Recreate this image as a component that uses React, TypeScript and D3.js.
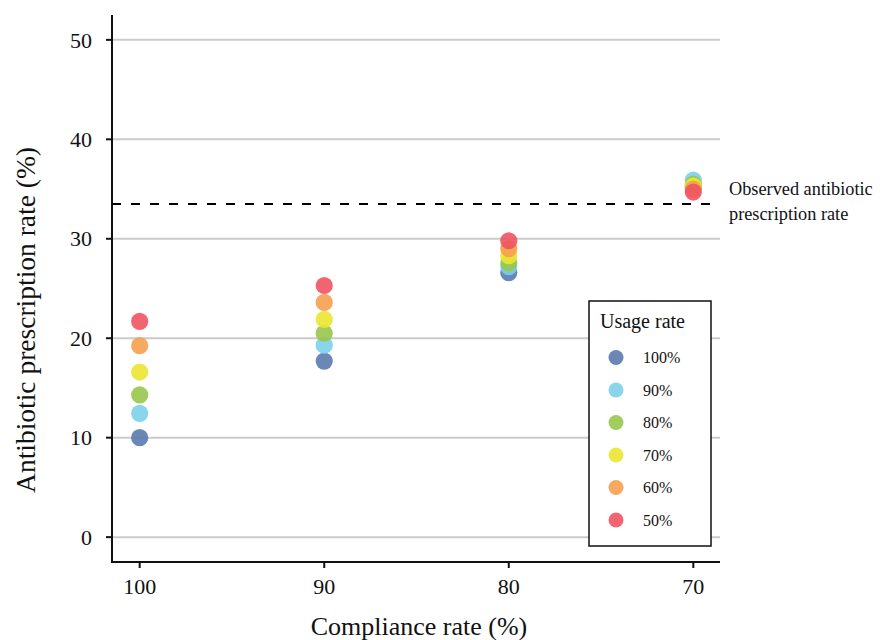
import React from "react";
import * as d3 from "d3";

const compliance = [100, 90, 80, 70];
const usageLabels = ["100%", "90%", "80%", "70%", "60%", "50%"];
const usageColors = ["#5a7aae", "#7bd0ea", "#98c84c", "#ece632", "#f6a04e", "#ee5462"];
const u100 = [10.0, 17.7, 26.6, 35.2];
const u90 = [12.45, 19.3, 27.2, 35.9];
const u80 = [14.3, 20.5, 27.6, 35.5];
const u70 = [16.6, 21.9, 28.3, 35.3];
const u60 = [19.25, 23.6, 29.0, 35.0];
const u50 = [21.7, 25.3, 29.8, 34.7];
const seriesValues = [u100, u90, u80, u70, u60, u50];
const yTicks = [0, 10, 20, 30, 40, 50];
const observedRate = 33.5;
const observedLabel = ["Observed antibiotic", "prescription rate"];

const FONT = "'Liberation Serif', 'Times New Roman', serif";

export default function App() {
  const left = 112, right = 721, top = 15, bottom = 562;
  const x = d3.scaleLinear().domain([101.5, 68.5]).range([left, right]);
  const y = d3.scaleLinear().domain([-2.5, 52.5]).range([bottom, top]);

  return (
    <svg width={880} height={640} style={{ position: "absolute", left: 0, top: 0, background: "#fff" }} fontFamily={FONT}>
      {/* gridlines */}
      {yTicks.map((t) => (
        <line key={"g" + t} x1={left} x2={720} y1={y(t)} y2={y(t)} stroke="#cbcbcb" strokeWidth={2} />
      ))}
      {/* observed dashed line */}
      <line x1={left} x2={720} y1={y(observedRate)} y2={y(observedRate)} stroke="#000" strokeWidth={2} strokeDasharray="9 10" />
      {observedLabel.map((s, i) => (
        <text key={s} x={729} y={y(observedRate) - 8.5 + i * 25} fontSize={18.3} fill="#111">{s}</text>
      ))}
      {/* points */}
      {seriesValues.map((vals, si) =>
        vals.map((v, ci) => (
          <circle key={si + "-" + ci} cx={x(compliance[ci])} cy={y(v)} r={8.6} fill={usageColors[si]} fillOpacity={0.9} />
        ))
      )}
      {/* axes */}
      <line x1={left} x2={left} y1={top} y2={bottom + 1} stroke="#111" strokeWidth={2} />
      <line x1={left - 1} x2={720} y1={bottom} y2={bottom} stroke="#111" strokeWidth={2} />
      {yTicks.map((t) => (
        <g key={"yt" + t}>
          <line x1={left - 6} x2={left} y1={y(t)} y2={y(t)} stroke="#111" strokeWidth={2} />
          <text x={left - 20} y={y(t)} dy="0.35em" textAnchor="end" fontSize={22} fill="#111">{t}</text>
        </g>
      ))}
      {compliance.map((c) => (
        <g key={"xt" + c}>
          <line x1={x(c)} x2={x(c)} y1={bottom} y2={bottom + 6} stroke="#111" strokeWidth={2} />
          <text x={x(c)} y={594} textAnchor="middle" fontSize={22} fill="#111">{c}</text>
        </g>
      ))}
      {/* titles */}
      <text x={419} y={635} textAnchor="middle" fontSize={26} fill="#111">Compliance rate (%)</text>
      <text transform={`translate(35,${320}) rotate(-90)`} textAnchor="middle" fontSize={27.5} fill="#111">Antibiotic prescription rate (%)</text>
      {/* legend */}
      <rect x={589} y={301} width={122} height={245} fill="#fff" stroke="#111" strokeWidth={1.5} />
      <text x={600} y={328} fontSize={20} fill="#111">Usage rate</text>
      {usageLabels.map((lab, i) => (
        <g key={lab}>
          <circle cx={616} cy={357.5 + i * 32.5} r={7.5} fill={usageColors[i]} fillOpacity={0.9} />
          <text x={643} y={357.5 + i * 32.5} dy="0.35em" fontSize={16} fill="#111">{lab}</text>
        </g>
      ))}
    </svg>
  );
}
